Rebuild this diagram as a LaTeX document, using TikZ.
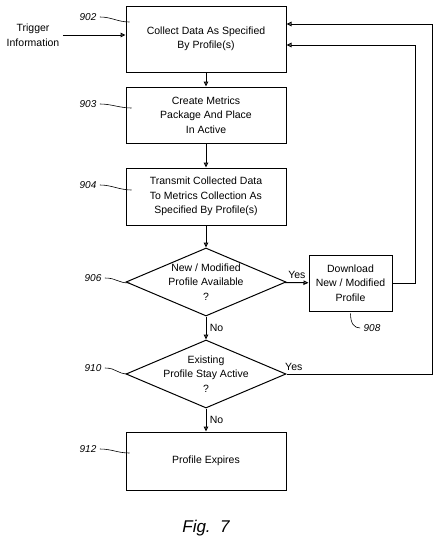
\documentclass[tikz,border=0pt]{standalone}
\usepackage{fontspec}
\setmainfont{Liberation Sans}
\usetikzlibrary{arrows.meta,positioning,shapes.geometric,calc}

\begin{document}
\begin{tikzpicture}[x=1pt, y=-1pt, >={Triangle[open,length=5pt,width=4.5pt]},
  every node/.style={font=\fontsize{10.5}{14.5}\selectfont, align=center},
  stepbox/.style={draw, line width=1pt, inner sep=2pt, minimum width=160pt},
  decision/.style={draw, diamond, aspect=2.35, inner sep=-5pt, line width=1pt, minimum width=160pt, minimum height=68pt},
  refnum/.style={font=\fontsize{10}{12}\selectfont\itshape},
  flow/.style={->, line width=1pt},
  leader/.style={line width=0.6pt}]
  \useasboundingbox (0,0) rectangle (438,549);

  \node[stepbox, minimum height=66pt] (collect) at (206,39) {Collect Data As Specified\\By Profile(s)};
  \node[stepbox, minimum height=56pt] (metrics) at (206,115) {Create Metrics\\Package And Place\\In Active};
  \node[stepbox, minimum height=57pt] (transmit) at (206,196.5) {Transmit Collected Data\\To Metrics Collection As\\Specified By Profile(s)};
  \node[decision] (newprof) at (206,282) {New / Modified\\Profile Available\\?};
  \node[stepbox, minimum width=83pt, minimum height=56pt] (download) at (350.5,283) {Download\\New / Modified\\Profile};
  \node[decision] (stay) at (206,374) {Existing\\Profile Stay Active\\?};
  \node[stepbox, minimum height=58pt] (expire) at (206,461) {Profile Expires};
  \node (trigger) at (33,35) {Trigger\\Information};
  \node[font=\fontsize{17}{20}\selectfont\itshape] (fig) at (206,528) {Fig.\ \ 7};

  % reference numerals
  \node[refnum] (r902) at (88,17) {902};
  \node[refnum] (r903) at (88,104) {903};
  \node[refnum] (r904) at (88,185) {904};
  \node[refnum] (r906) at (93,278) {906};
  \node[refnum] (r910) at (93,368) {910};
  \node[refnum] (r912) at (88,449) {912};
  \node[refnum] (r908) at (372,328) {908};
  \draw[leader] (r902.east) .. controls +(12,0) and +(-12,0) .. ($(collect.west)+(4,-17)$);
  \draw[leader] (r903.east) .. controls +(12,0) and +(-12,0) .. ($(metrics.west)+(6,-7)$);
  \draw[leader] (r904.east) .. controls +(12,0) and +(-12,0) .. ($(transmit.west)+(6,-6.5)$);
  \draw[leader] (r906.east) .. controls +(12,0) and +(-12,0) .. ($(newprof.west)+(4,1)$);
  \draw[leader] (r910.east) .. controls +(12,0) and +(-12,0) .. ($(stay.west)+(3,0)$);
  \draw[leader] (r912.east) .. controls +(12,0) and +(-12,0) .. ($(expire.west)+(4,-8)$);
  \draw[leader] ($(download.south)+(0,2)$) .. controls +(0,10) and +(-6,0) .. (r908.west);

  % flow
  \draw[flow] (trigger.east) -- (trigger.east -| collect.west);
  \draw[flow] (collect) -- (metrics);
  \draw[flow] (metrics) -- (transmit);
  \draw[flow] (transmit) -- (newprof);
  \draw[flow] (newprof) -- node[above] {Yes} (download);
  \draw[flow] (newprof) -- node[right] {No} (stay);
  \draw[flow] (stay) -- node[right] {No} (expire);

  % loops back to the top
  \coordinate (back1) at ($(collect.east)+(0,6)$);
  \coordinate (back2) at ($(collect.east)+(0,-15)$);
  \draw[flow] (download.east) -- ++(23,0) |- (back1);
  \draw[flow] (stay.east) -- node[above, pos=0.05] {Yes} ++(146,0) |- (back2);
\end{tikzpicture}
\end{document}
